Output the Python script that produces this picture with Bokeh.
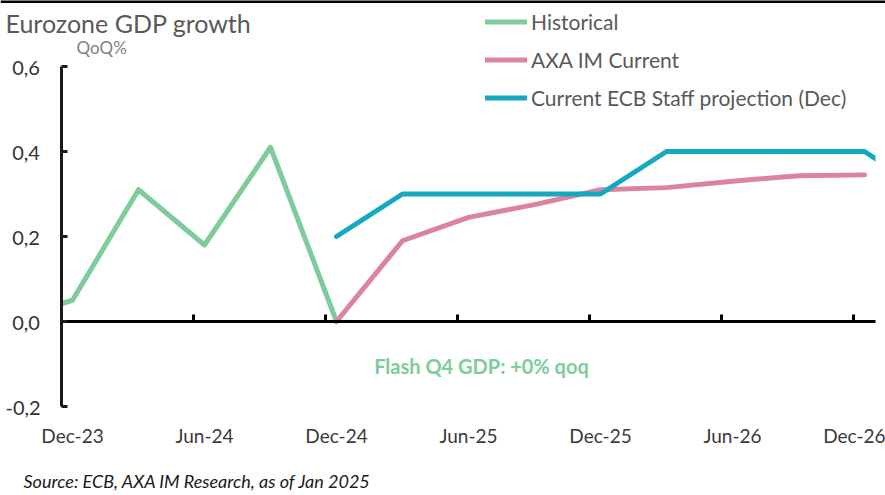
from bokeh.plotting import figure
from bokeh.models import (ColumnDataSource, Range1d, LinearAxis, FixedTicker,
                          CustomJSTickFormatter, Legend, LegendItem, Label,
                          CustomLabelingPolicy, BoxAnnotation, Span)
from bokeh.embed import file_html
from bokeh.resources import INLINE

# ---------------- data ----------------
hist_dates = ["2023-09", "2023-12", "2024-03", "2024-06", "2024-09", "2024-12"]
hist_vals = [0.0, 0.05, 0.31, 0.18, 0.41, 0.0]

axa_dates = ["2024-12", "2025-03", "2025-06", "2025-09", "2025-12",
             "2026-03", "2026-06", "2026-09", "2026-12"]
axa_vals = [0.0, 0.19, 0.245, 0.275, 0.31, 0.315, 0.33, 0.343, 0.345]

ecb_dates = ["2024-12", "2025-03", "2025-06", "2025-09", "2025-12",
             "2026-03", "2026-06", "2026-09", "2026-12", "2027-03"]
ecb_vals = [0.2, 0.3, 0.3, 0.3, 0.3, 0.4, 0.4, 0.4, 0.4, 0.3]

x_tick_labels = ["Dec-23", "Jun-24", "Dec-24", "Jun-25", "Dec-25", "Jun-26", "Dec-26"]
y_ticks = [-0.2, 0.0, 0.2, 0.4, 0.6]

series_names = ["Historical", "AXA IM Current", "Current ECB Staff projection (Dec)"]
series_colors = ["#7ECB9B", "#DC83A3", "#14A8C1"]

# month index: Dec-23 slot = [0, 1], point at slot centre
def month_pos(s):
    y, m = s.split("-")
    return (int(y) - 2023) * 12 + (int(m) - 12) + 0.5

FONT = "Lato"
GREY = "#595959"
DARK = "#333333"

# page-pixel -> data mapping (x: 22 px per month, origin at px 61; y: 425 px per unit, 0 at px 321)
def px_x(px):
    return (px - 61) / 22.0

def px_y(py):
    return (321 - py) / 425.0

W, H = 885, 495
X_END = px_x(875)  # right end of the plotting area

p = figure(width=W, height=H, output_backend="svg", toolbar_location=None,
           x_range=Range1d(px_x(0), px_x(W)), y_range=Range1d(px_y(H), px_y(0)),
           x_axis_type=None, y_axis_type=None,
           min_border_left=0, min_border_right=0, min_border_top=0, min_border_bottom=0)
p.outline_line_color = None
p.xgrid.visible = False
p.ygrid.visible = False
p.background_fill_color = "white"
p.border_fill_color = "white"

# y axis drawn at x = 0
yaxis = LinearAxis(ticker=FixedTicker(ticks=y_ticks), fixed_location=0, bounds=(-0.2, 0.6),
                   formatter=CustomJSTickFormatter(
                       code="const s = tick.toFixed(1).replace('.', ','); return tick < 0 ? s : '\\u2004' + s;"))
yaxis.axis_line_width = 3
yaxis.axis_line_color = "#1a1a1a"
yaxis.major_tick_in = 0
yaxis.major_tick_out = 6
yaxis.major_tick_line_width = 3
yaxis.major_tick_line_color = "#1a1a1a"
yaxis.minor_tick_line_color = None
yaxis.major_label_text_font = FONT
yaxis.major_label_text_font_size = "20px"
yaxis.major_label_text_font_style = "normal"
yaxis.major_label_text_color = DARK
yaxis.major_label_standoff = -62
p.add_layout(yaxis, "right")

# x labels axis (labels only), drawn below y=-0.2
label_ticks = [6 * i + 0.5 for i in range(len(x_tick_labels))]
xlab = LinearAxis(ticker=FixedTicker(ticks=label_ticks), fixed_location=-0.2)
xlab.major_label_overrides = {t: l for t, l in zip(label_ticks, x_tick_labels)}
xlab.axis_line_color = None
xlab.major_tick_line_color = None
xlab.major_tick_in = 0
xlab.major_tick_out = 0
xlab.minor_tick_line_color = None
xlab.major_label_text_font = FONT
xlab.major_label_text_font_size = "19px"
xlab.major_label_text_font_style = "normal"
xlab.major_label_text_color = "#3a3a3a"
xlab.major_label_standoff = -40
p.add_layout(xlab, "above")

# zero line axis with upward tick marks, spanning the plotting area only
zaxis = LinearAxis(ticker=FixedTicker(ticks=[6 * i for i in range(len(x_tick_labels))]),
                   fixed_location=0, bounds=(0, X_END),
                   major_label_policy=CustomLabelingPolicy(code="return new Set()"))
zaxis.axis_line_width = 3
zaxis.axis_line_color = "black"
zaxis.major_tick_in = 0
zaxis.major_tick_out = 7
zaxis.major_tick_line_width = 3
zaxis.major_tick_line_color = "black"
zaxis.minor_tick_line_color = None
zaxis.major_label_standoff = -30
p.add_layout(zaxis, "above")

renderers = []
for dates, vals, col in [(hist_dates, hist_vals, series_colors[0]),
                         (axa_dates, axa_vals, series_colors[1]),
                         (ecb_dates, ecb_vals, series_colors[2])]:
    src = ColumnDataSource(dict(x=[month_pos(d) for d in dates], y=vals))
    r = p.line("x", "y", source=src, line_color=col, line_width=5,
               line_join="round", line_cap="round")
    renderers.append(r)

# the plotting area runs from the y axis to X_END: hide line parts outside it
p.add_layout(BoxAnnotation(right=0, fill_color="white", fill_alpha=1.0, line_alpha=0,
                           level="glyph"))
p.add_layout(BoxAnnotation(left=X_END, fill_color="white", fill_alpha=1.0, line_alpha=0,
                           level="glyph"))

# thin black rule along the top edge of the picture
p.add_layout(Span(location=px_y(1), dimension="width", line_color="black", line_width=3))

legend = Legend(items=[LegendItem(label=n, renderers=[r]) for n, r in zip(series_names, renderers)],
                location=(485, H - 110))
legend.border_line_color = None
legend.background_fill_alpha = 0
legend.padding = 0
legend.margin = 0
legend.spacing = 13
legend.glyph_width = 42
legend.glyph_height = 25
legend.label_height = 25
legend.label_standoff = 4
legend.label_text_font = FONT
legend.label_text_font_size = "21px"
legend.label_text_color = GREY
p.add_layout(legend, "center")

p.add_layout(Label(x=px_x(5), y=px_y(22), text="Eurozone GDP growth", text_font=FONT,
                   text_font_size="25px", text_color=GREY, text_baseline="middle",
                   text_align="left"))
p.add_layout(Label(x=px_x(76), y=px_y(47), text="QoQ%", text_font=FONT,
                   text_font_size="17px", text_color="#7f7f7f", text_baseline="middle",
                   text_align="left"))
p.add_layout(Label(x=px_x(481), y=px_y(365), text="Flash Q4 GDP: +0% qoq", text_font=FONT,
                   text_font_size="20px", text_font_style="bold", text_color=series_colors[0],
                   text_baseline="middle", text_align="center"))
p.add_layout(Label(x=px_x(23), y=px_y(480), text="Source: ECB, AXA IM Research, as of Jan 2025",
                   text_font=FONT, text_font_size="18px", text_font_style="italic",
                   text_color="#1a1a1a", text_baseline="middle", text_align="left"))

open("out.html", "w").write(file_html(p, INLINE))
